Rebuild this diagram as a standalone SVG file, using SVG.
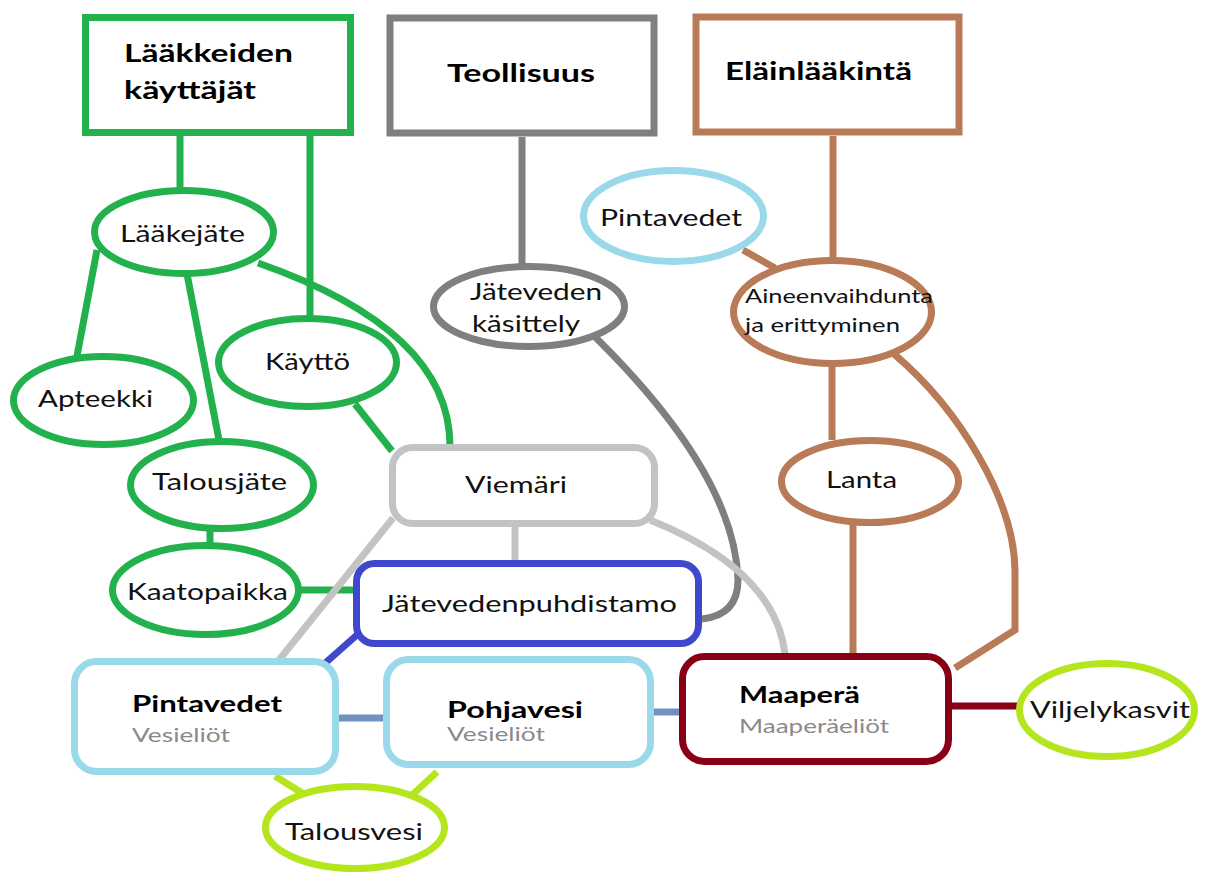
<svg xmlns="http://www.w3.org/2000/svg" width="1212" height="877" viewBox="0 0 1212 877">
<style>
.t{font-family:Lato,"Open Sans","Liberation Sans",sans-serif;font-size:23px;fill:#111}
.b{font-family:Lato,"Open Sans","Liberation Sans",sans-serif;font-size:25px;font-weight:bold;fill:#000}
.bs{font-family:Lato,"Open Sans","Liberation Sans",sans-serif;font-size:22px;font-weight:bold;fill:#000}
.s{font-family:Lato,"Open Sans","Liberation Sans",sans-serif;font-size:19px;fill:#8a8a8a}
.a{font-family:Lato,"Open Sans","Liberation Sans",sans-serif;font-size:20px;fill:#111}
.n{fill:#fff;stroke-width:7}
.c{fill:none;stroke-width:7}
.g{stroke:#22B14C}.gr{stroke:#7F7F7F}.br{stroke:#B97A57}.lb{stroke:#99D9EA}.bl{stroke:#3F48CC}.dr{stroke:#880015}.yg{stroke:#B5E61D}.lg{stroke:#C3C3C3}.sb{stroke:#7092BE}
</style>
<rect width="1212" height="877" fill="#fff"/>
<g id="connectors">
<line class="c g" x1="180" y1="136" x2="180" y2="190"/>
<line class="c g" x1="310" y1="136" x2="310" y2="318"/>
<line class="c g" x1="97" y1="250" x2="77" y2="356"/>
<line class="c g" x1="187" y1="274" x2="219" y2="440"/>
<path class="c g" d="M258,263 Q450,330 450,446"/>
<line class="c g" x1="355" y1="404" x2="392" y2="451"/>
<line class="c g" x1="210" y1="530" x2="210" y2="546"/>
<line class="c g" x1="300" y1="590" x2="356" y2="590"/>
<line class="c gr" x1="522" y1="137" x2="522" y2="267"/>
<path class="c gr" d="M590,332 C660,400 735,490 738,580 Q738,615 702,619"/>
<line class="c br" x1="743" y1="250" x2="775" y2="268"/>
<line class="c br" x1="833" y1="136" x2="833" y2="259"/>
<line class="c br" x1="832" y1="364" x2="832" y2="440"/>
<line class="c br" x1="853" y1="524" x2="853" y2="656"/>
<path class="c br" d="M894,354 C960,410 1014,500 1015,570 L1015,630 L955,668"/>
<line class="c lg" x1="515" y1="526" x2="515" y2="562"/>
<line class="c lg" x1="393" y1="518" x2="279" y2="660"/>
<path class="c lg" d="M650,520 Q775,570 785,654"/>
<line class="c bl" x1="358" y1="634" x2="323" y2="665"/>
<line class="c sb" x1="336" y1="718" x2="387" y2="718" stroke-width="6"/>
<line class="c sb" x1="651" y1="712" x2="684" y2="712" stroke-width="6"/>
<line class="c dr" x1="950" y1="706" x2="1020" y2="706"/>
<line class="c yg" x1="275" y1="776" x2="302" y2="793"/>
<line class="c yg" x1="437" y1="772" x2="412" y2="795"/>
</g>
<g id="laakkeiden-kayttajat">
<rect class="n g" x="85.5" y="17.5" width="265" height="115"/>
<text class="b" x="124" y="62" textLength="169" lengthAdjust="spacingAndGlyphs">Lääkkeiden</text>
<text class="b" x="124" y="99" textLength="132" lengthAdjust="spacingAndGlyphs">käyttäjät</text>
</g>
<g id="teollisuus">
<rect class="n gr" x="390" y="18" width="264" height="115" stroke-width="8"/>
<text class="b" x="447" y="82" textLength="148" lengthAdjust="spacingAndGlyphs">Teollisuus</text>
</g>
<g id="elainlaakinta">
<rect class="n br" x="696" y="17" width="263" height="115"/>
<text class="b" x="725" y="80" textLength="187" lengthAdjust="spacingAndGlyphs">Eläinlääkintä</text>
</g>
<g id="laakejate">
<ellipse class="n g" cx="184" cy="232" rx="89.5" ry="41.5"/>
<text class="t" x="120" y="242" textLength="125" lengthAdjust="spacingAndGlyphs">Lääkejäte</text>
</g>
<g id="apteekki">
<ellipse class="n g" cx="103.5" cy="400.5" rx="90" ry="44"/>
<text class="t" x="38" y="407" textLength="115" lengthAdjust="spacingAndGlyphs">Apteekki</text>
</g>
<g id="kaytto">
<ellipse class="n g" cx="307.5" cy="362.5" rx="89" ry="44"/>
<text class="t" x="265" y="370" textLength="85" lengthAdjust="spacingAndGlyphs">Käyttö</text>
</g>
<g id="talousjate">
<ellipse class="n g" cx="222" cy="485" rx="91.5" ry="43.5"/>
<text class="t" x="152" y="490" textLength="135" lengthAdjust="spacingAndGlyphs">Talousjäte</text>
</g>
<g id="kaatopaikka">
<ellipse class="n g" cx="205.5" cy="590" rx="93" ry="44.5"/>
<text class="t" x="127" y="600" textLength="161" lengthAdjust="spacingAndGlyphs">Kaatopaikka</text>
</g>
<g id="jateveden-kasittely">
<ellipse class="n gr" cx="529" cy="306.5" rx="95.5" ry="40"/>
<text class="t" x="470" y="300" textLength="132" lengthAdjust="spacingAndGlyphs">Jäteveden</text>
<text class="t" x="472" y="332" textLength="108" lengthAdjust="spacingAndGlyphs">käsittely</text>
</g>
<g id="pintavedet-ellipse">
<ellipse class="n lb" cx="673.5" cy="216" rx="90" ry="45.5"/>
<text class="t" x="600" y="226" textLength="142" lengthAdjust="spacingAndGlyphs">Pintavedet</text>
</g>
<g id="aineenvaihdunta">
<ellipse class="n br" cx="832.5" cy="312" rx="99" ry="51.5"/>
<text class="a" x="745" y="303" textLength="188" lengthAdjust="spacingAndGlyphs">Aineenvaihdunta</text>
<text class="a" x="745" y="332" textLength="155" lengthAdjust="spacingAndGlyphs">ja erittyminen</text>
</g>
<g id="lanta">
<ellipse class="n br" cx="870" cy="481.5" rx="88.5" ry="41"/>
<text class="t" x="826" y="488" textLength="71" lengthAdjust="spacingAndGlyphs">Lanta</text>
</g>
<g id="viemari">
<rect class="n lg" x="392.5" y="447.5" width="262" height="76" rx="20"/>
<text class="t" x="465" y="493" textLength="102" lengthAdjust="spacingAndGlyphs">Viemäri</text>
</g>
<g id="jatevedenpuhdistamo">
<rect class="n bl" x="356.5" y="563.5" width="342" height="80" rx="18"/>
<text class="t" x="382" y="612" textLength="295" lengthAdjust="spacingAndGlyphs">Jätevedenpuhdistamo</text>
</g>
<g id="pintavedet">
<rect class="n lb" x="74.5" y="661.5" width="261" height="110" rx="22"/>
<text class="bs" x="132" y="712" textLength="150" lengthAdjust="spacingAndGlyphs">Pintavedet</text>
<text class="s" x="132" y="742" textLength="98" lengthAdjust="spacingAndGlyphs">Vesieliöt</text>
</g>
<g id="pohjavesi">
<rect class="n lb" x="386.5" y="659.5" width="264" height="105" rx="22"/>
<text class="bs" x="447" y="718" textLength="136" lengthAdjust="spacingAndGlyphs">Pohjavesi</text>
<text class="s" x="447" y="741" textLength="98" lengthAdjust="spacingAndGlyphs">Vesieliöt</text>
</g>
<g id="maapera">
<rect class="n dr" x="682.5" y="656.5" width="266" height="105" rx="22"/>
<text class="bs" x="739" y="703" textLength="121" lengthAdjust="spacingAndGlyphs">Maaperä</text>
<text class="s" x="739" y="733" textLength="150" lengthAdjust="spacingAndGlyphs">Maaperäeliöt</text>
</g>
<g id="viljelykasvit">
<ellipse class="n yg" cx="1107" cy="710" rx="87.5" ry="46.5"/>
<text class="t" x="1030" y="718" textLength="160" lengthAdjust="spacingAndGlyphs">Viljelykasvit</text>
</g>
<g id="talousvesi">
<ellipse class="n yg" cx="355" cy="827.5" rx="89.5" ry="41"/>
<text class="t" x="285" y="840" textLength="138" lengthAdjust="spacingAndGlyphs">Talousvesi</text>
</g>
</svg>
